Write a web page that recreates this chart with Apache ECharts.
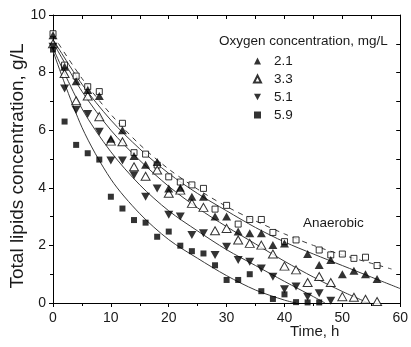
<!DOCTYPE html>
<html><head><meta charset="utf-8">
<script src="https://cdn.jsdelivr.net/npm/echarts@6/dist/echarts.min.js"></script>
<style>html,body{margin:0;padding:0;background:#fff}#c{width:411px;height:347px}</style>
</head><body><div id="c"></div>
<script>
// ---- data ----
const times = [0,2,4,6,8,10,12,14,16,18,20,22,24,26,28,30,32,34,36,38,40,42,44,46,48,50,52,54,56];
const anaerobic = [9.35,8.26,7.88,7.51,7.34,null,6.24,5.22,5.17,4.79,4.38,4.2,4.1,3.98,3.26,3.39,2.74,2.9,2.9,2.45,2.13,2.19,null,1.84,1.67,1.70,1.55,1.59,1.30];
const o21 = [9.3,8.2,7.7,7.4,7.19,5.7,6.0,5.1,4.8,4.9,3.98,4.0,3.69,3.69,3.0,3.0,2.48,2.42,2.42,2.01,2.07,null,1.70,1.32,1.49,1.0,1.12,1.0,0.83];
const o33 = [9.0,7.97,7.02,7.19,6.47,5.62,5.6,4.73,4.4,4.62,3.81,3.92,3.46,3.32,2.51,2.59,2.19,2.07,2.01,1.7,1.28,1.15,0.71,0.92,0.71,0.22,0.2,0.13,0.05];
const o51 = [8.9,7.45,6.7,6.56,5.95,4.95,4.95,4.44,3.69,3.98,3.06,3.0,2.36,2.42,1.67,1.95,1.49,1.43,1.2,0.91,0.48,0.57,0.22,0.34,0.08,null,null,null,null];
const o59 = [8.8,6.3,5.49,5.2,4.98,3.69,3.28,2.88,2.79,2.3,2.48,1.99,1.8,1.72,1.31,0.8,0.8,1.0,0.41,0.14,0.3,0.03,0.02,0.02,null,null,null,null,null];

const fitAnT = [0,5,10,15,20,25,30,35,40,45,50,55,58.5];
const fitAn  = [9.3,7.8,6.55,5.5,4.65,3.95,3.35,2.85,2.4,2.0,1.67,1.38,1.18];
const fit21T = [0,5,10,15,20,25,30,35,40,45,50,55,60];
const fit21  = [9.15,7.6,6.35,5.35,4.5,3.8,3.2,2.62,2.12,1.7,1.3,0.9,0.5];
const fit33T = [0,5,10,15,20,25,30,35,40,45,50,54.5];
const fit33  = [9.05,7.35,6.0,4.95,4.05,3.3,2.65,2.05,1.45,0.9,0.4,0.0];
const fit51T = [0,5,10,15,20,25,30,35,40,45,47];
const fit51  = [8.85,6.75,5.25,4.1,3.2,2.5,1.85,1.3,0.75,0.22,0.0];
const fit59T = [0,5,10,15,20,25,30,35,40,42];
const fit59  = [8.75,6.1,4.3,3.1,2.2,1.55,0.95,0.45,0.1,0.0];

const legendTitle = 'Oxygen concentration, mg/L';
const names = ['2.1','3.3','5.1','5.9'];

// ---- build ----
const FONT = 'Liberation Sans, Arial, sans-serif';
const pairs = (xs, ys) => xs.map((x,i)=>[x, ys[i]]).filter(p=>p[1]!==null);
const downTri = 'path://M0,0 L10,0 L5,9 Z';

const fitLine = (xs, ys, dashed) => ({
  type:'line', data: pairs(xs, ys), showSymbol:false, smooth:0.3, silent:true,
  lineStyle:{color:'#3a3a3a', width:1, type: dashed ? [5,5] : 'solid'}, z:1
});

const chart = echarts.init(document.getElementById('c'), null, {renderer:'canvas'});
chart.setOption({
  animation:false,
  grid:{left:53, right:6, top:15, bottom:44},
  legend:{
    orient:'vertical', left:248, top:49, itemGap:4, itemWidth:7, itemHeight:7,
    data: names,
    textStyle:{fontFamily:FONT, fontSize:13.5, color:'#1a1a1a', padding:[0,0,0,8]},
    selectedMode:false
  },
  xAxis:[
    {type:'value', min:0, max:60, interval:10,
     axisLine:{onZero:false, lineStyle:{color:'#000', width:1}},
     axisTick:{inside:false, length:4, lineStyle:{color:'#000'}},
     minorTick:{show:true, splitNumber:2, length:3, lineStyle:{color:'#000'}},
     axisLabel:{fontFamily:FONT, fontSize:14, color:'#1a1a1a', margin:8},
     splitLine:{show:false}},
    {type:'value', position:'top', min:0, max:60, interval:5,
     axisLine:{onZero:false, lineStyle:{color:'#000', width:1}},
     axisTick:{inside:true, length:4, lineStyle:{color:'#000'}},
     axisLabel:{show:false}, splitLine:{show:false}}
  ],
  yAxis:[
    {type:'value', min:0, max:10, interval:2,
     axisLine:{show:true, onZero:false, lineStyle:{color:'#000', width:1}},
     axisTick:{show:true, inside:false, length:4, lineStyle:{color:'#000'}},
     minorTick:{show:true, splitNumber:2, length:3, lineStyle:{color:'#000'}},
     axisLabel:{fontFamily:FONT, fontSize:14, color:'#1a1a1a', margin:7},
     splitLine:{show:false}},
    {type:'value', position:'right', min:0, max:10, interval:1,
     axisLine:{show:true, onZero:false, lineStyle:{color:'#000', width:1}},
     axisTick:{show:true, inside:true, length:4, lineStyle:{color:'#000'}},
     axisLabel:{show:false}, splitLine:{show:false}}
  ],
  graphic:[
    {type:'text', left:219, top:34, style:{text:legendTitle, font:'13.5px '+FONT, fill:'#1a1a1a'}},
    {type:'text', left:303, top:216, style:{text:'Anaerobic', font:'13.5px '+FONT, fill:'#1a1a1a'}},
    {type:'text', left:290, top:324, style:{text:'Time, h', font:'15px '+FONT, fill:'#1a1a1a'}},
    {type:'text', x:18, y:166, rotation:Math.PI/2,
     style:{text:'Total lipids concentration, g/L', font:'19px '+FONT, fill:'#1a1a1a', align:'center', verticalAlign:'middle'}}
  ],
  series:[
    fitLine(fitAnT, fitAn, true),
    fitLine(fit21T, fit21, false),
    fitLine(fit33T, fit33, false),
    fitLine(fit51T, fit51, false),
    fitLine(fit59T, fit59, false),
    {name:'Anaerobic', type:'scatter', data:pairs(times, anaerobic), symbol:'rect', symbolSize:6,
     itemStyle:{color:'#fff', borderColor:'#000', borderWidth:1}, z:3},
    {name:'2.1', type:'scatter', data:pairs(times, o21), symbol:'triangle', symbolSize:[9,8],
     itemStyle:{color:'#000'}, z:4},
    {name:'3.3', type:'scatter', data:pairs(times, o33), symbol:'triangle', symbolSize:[9,8],
     itemStyle:{color:'#fff', borderColor:'#000', borderWidth:1}, z:3},
    {name:'5.1', type:'scatter', data:pairs(times, o51), symbol:downTri, symbolSize:[9,8],
     itemStyle:{color:'#000'}, z:4},
    {name:'5.9', type:'scatter', data:pairs(times, o59), symbol:'rect', symbolSize:6,
     itemStyle:{color:'#000'}, z:4}
  ]
});
</script></body></html>
